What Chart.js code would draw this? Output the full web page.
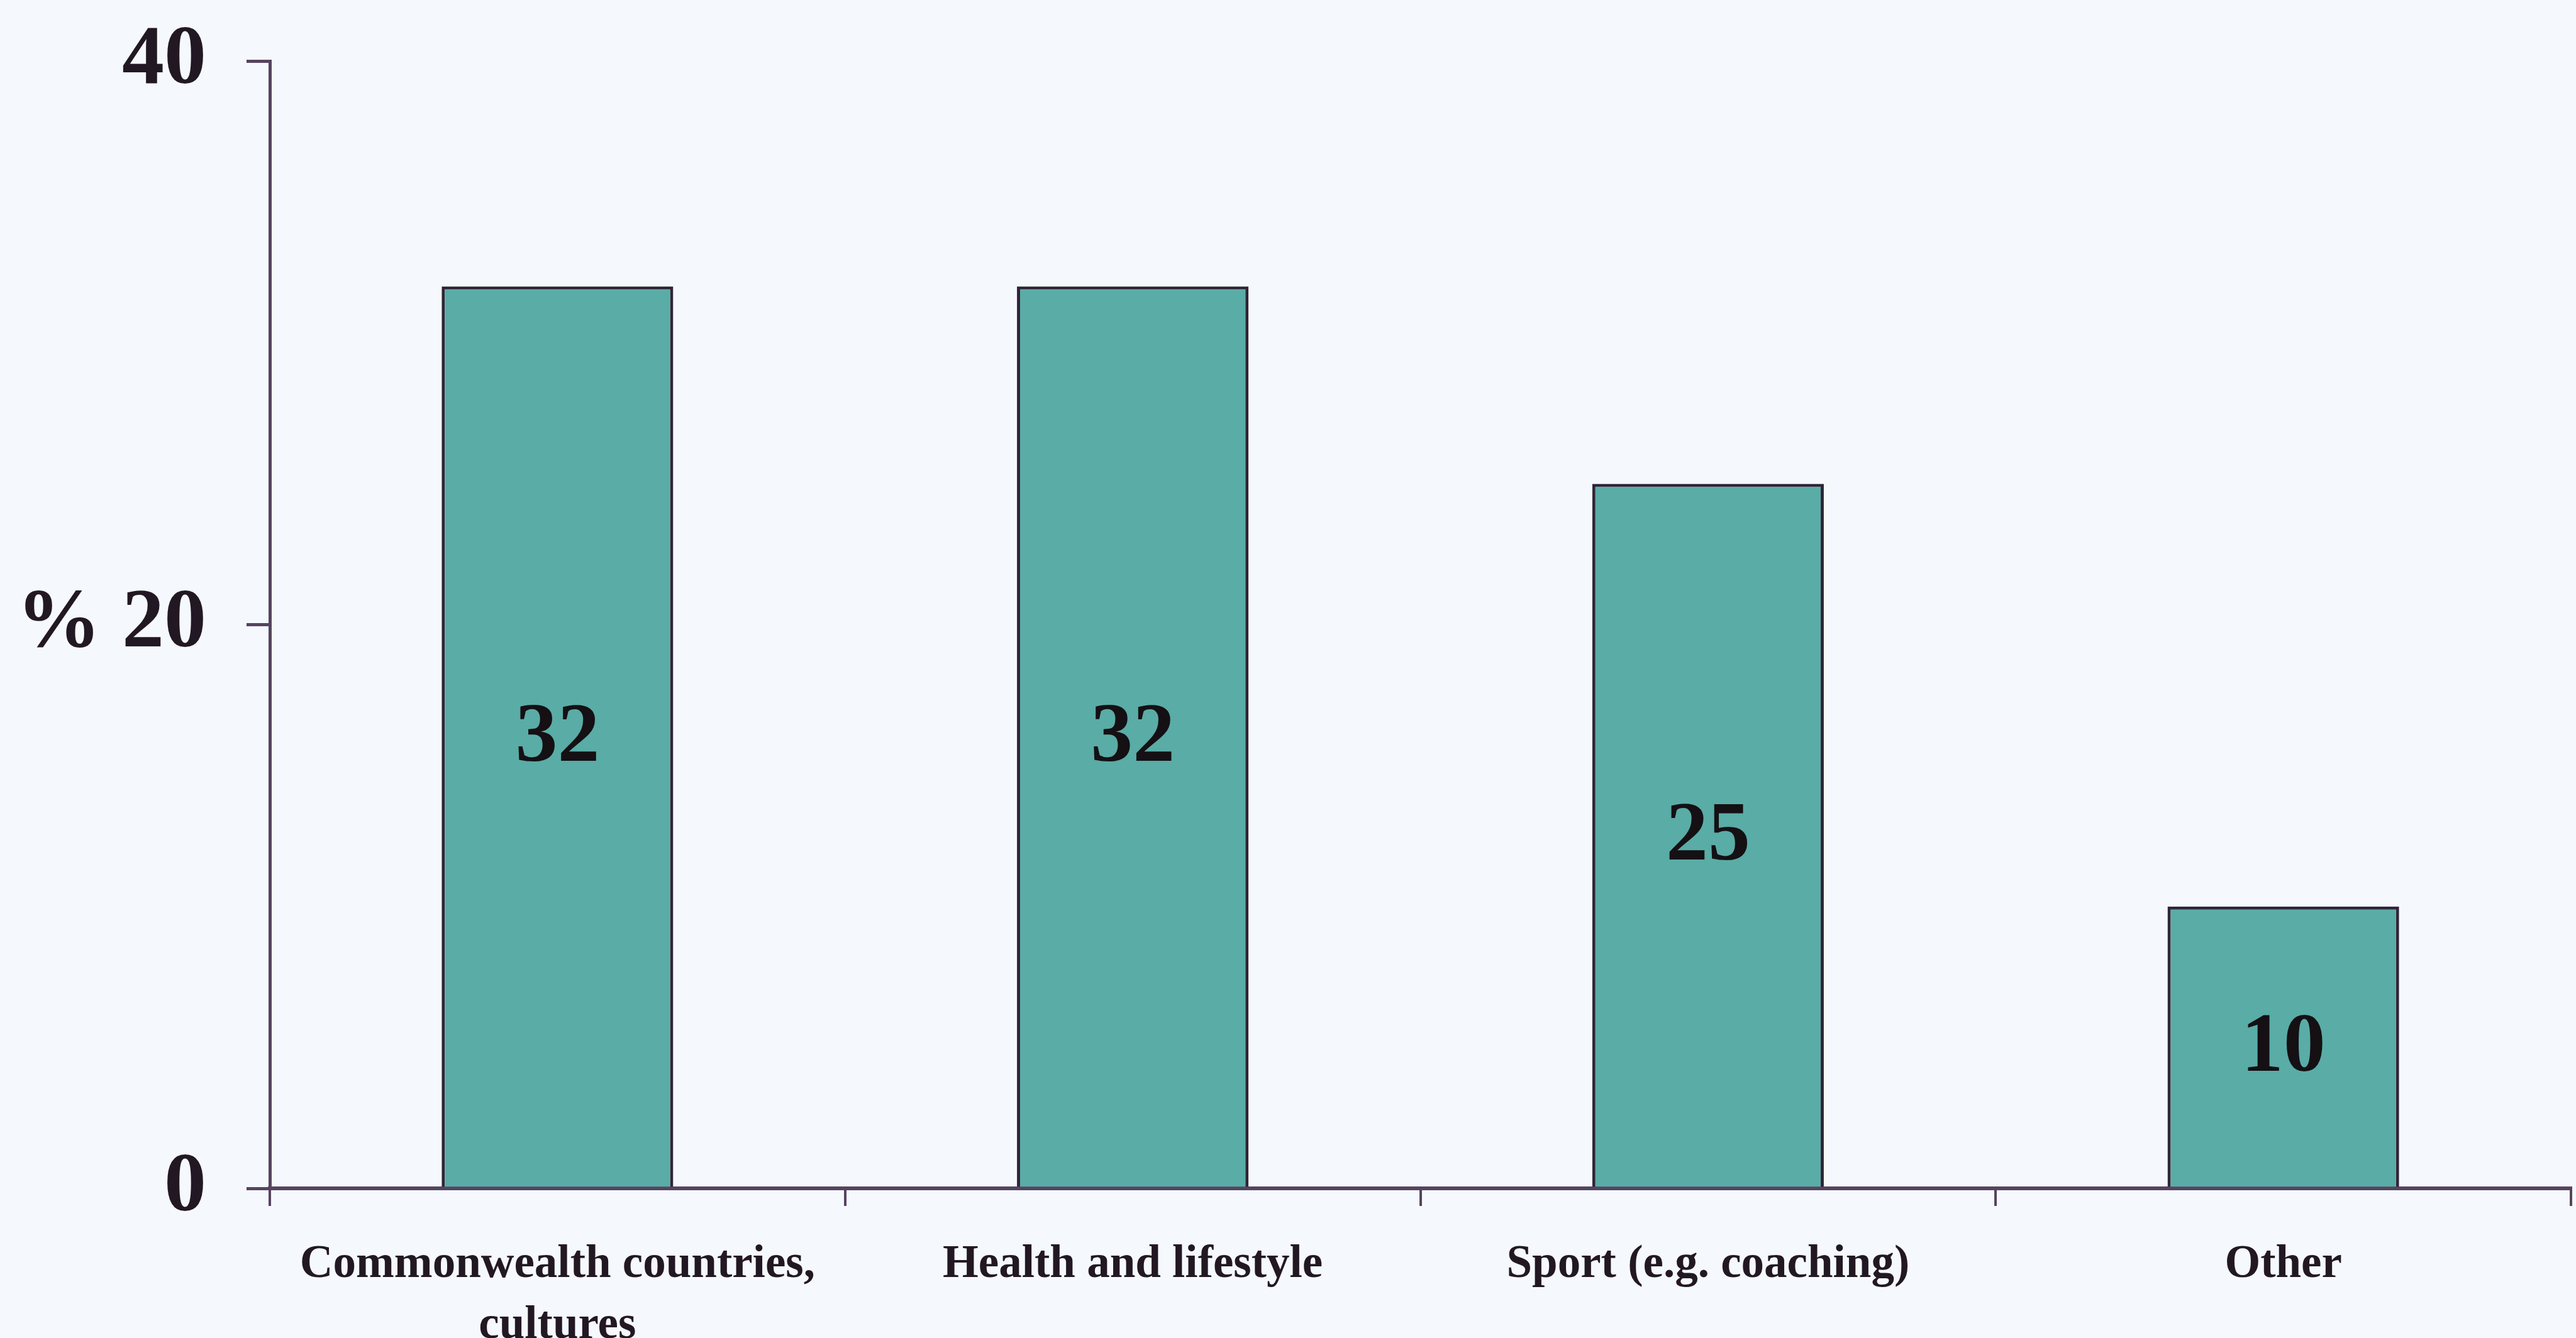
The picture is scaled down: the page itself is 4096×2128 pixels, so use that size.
<!DOCTYPE html>
<html>
<head>
<meta charset="utf-8">
<script src="https://cdn.jsdelivr.net/npm/chart.js@4.4.1/dist/chart.umd.min.js"></script>
<style>
  html, body { margin: 0; padding: 0; background: #f5f8fc; }
  #chart { display: block; }
</style>
</head>
<body>
<canvas id="chart" width="4096" height="2128"></canvas>
<script>
// Areas of interest (% of respondents)
const categories = [
  ["Commonwealth countries,", "cultures"],
  "Health and lifestyle",
  "Sport (e.g. coaching)",
  "Other"
];
const percentValues = [32, 32, 25, 10];
const yTicks = [0, 20, 40];

const SERIF = "'Liberation Serif', 'Times New Roman', serif";
const INK = "#221823";
const AXIS = "#56445f";
const TEAL = "#5aaca6";

// numbers written in the middle of each bar
const barValueLabels = {
  id: "barValueLabels",
  afterDatasetsDraw(chart) {
    const { ctx } = chart;
    const meta = chart.getDatasetMeta(0);
    ctx.save();
    ctx.font = "bold 134px " + SERIF;
    ctx.fillStyle = "#141014";
    ctx.textAlign = "center";
    ctx.textBaseline = "middle";
    meta.data.forEach((bar, i) => {
      const mid = (bar.y + bar.base) / 2;
      ctx.fillText(String(percentValues[i]), bar.x, mid + 4);
    });
    ctx.restore();
  }
};

new Chart(document.getElementById("chart"), {
  type: "bar",
  data: {
    labels: categories,
    datasets: [{
      data: percentValues,
      backgroundColor: TEAL,
      borderColor: "#2f2537",
      borderWidth: 5,
      borderSkipped: "start",
      categoryPercentage: 1,
      barPercentage: 0.4025
    }]
  },
  options: {
    responsive: false,
    animation: false,
    devicePixelRatio: 1,
    layout: { padding: { top: 97, right: 8, bottom: 0, left: 0 } },
    plugins: {
      legend: { display: false },
      tooltip: { enabled: false }
    },
    scales: {
      y: {
        min: 0,
        max: 40,
        // fixed axis box, no extra room reserved for label overhang
        afterFit(scale) {
          scale.width = 429;
          scale.paddingTop = 0;
          scale.paddingBottom = 0;
        },
        afterBuildTicks(scale) { scale.ticks = yTicks.map(v => ({ value: v })); },
        ticks: {
          color: INK,
          padding: 64,
          font: { family: SERIF, size: 134, weight: "bold" },
          callback: v => (v === 20 ? "% 20" : String(v))
        },
        grid: {
          drawOnChartArea: false,
          drawTicks: true,
          tickLength: 37,
          color: AXIS,
          lineWidth: 5
        },
        border: { display: true, color: AXIS, width: 5 }
      },
      x: {
        afterFit(scale) {
          scale.height = 238;
          scale.paddingLeft = 0;
          scale.paddingRight = 0;
        },
        ticks: {
          color: INK,
          padding: 46,
          maxRotation: 0,
          autoSkip: false,
          font: { family: SERIF, size: 73, weight: "bold", lineHeight: 1.33 }
        },
        grid: {
          offset: true,
          drawOnChartArea: false,
          drawTicks: true,
          tickLength: 28,
          color: AXIS,
          lineWidth: 4
        },
        border: { display: true, color: AXIS, width: 6 }
      }
    }
  },
  plugins: [barValueLabels]
});
</script>
</body>
</html>
